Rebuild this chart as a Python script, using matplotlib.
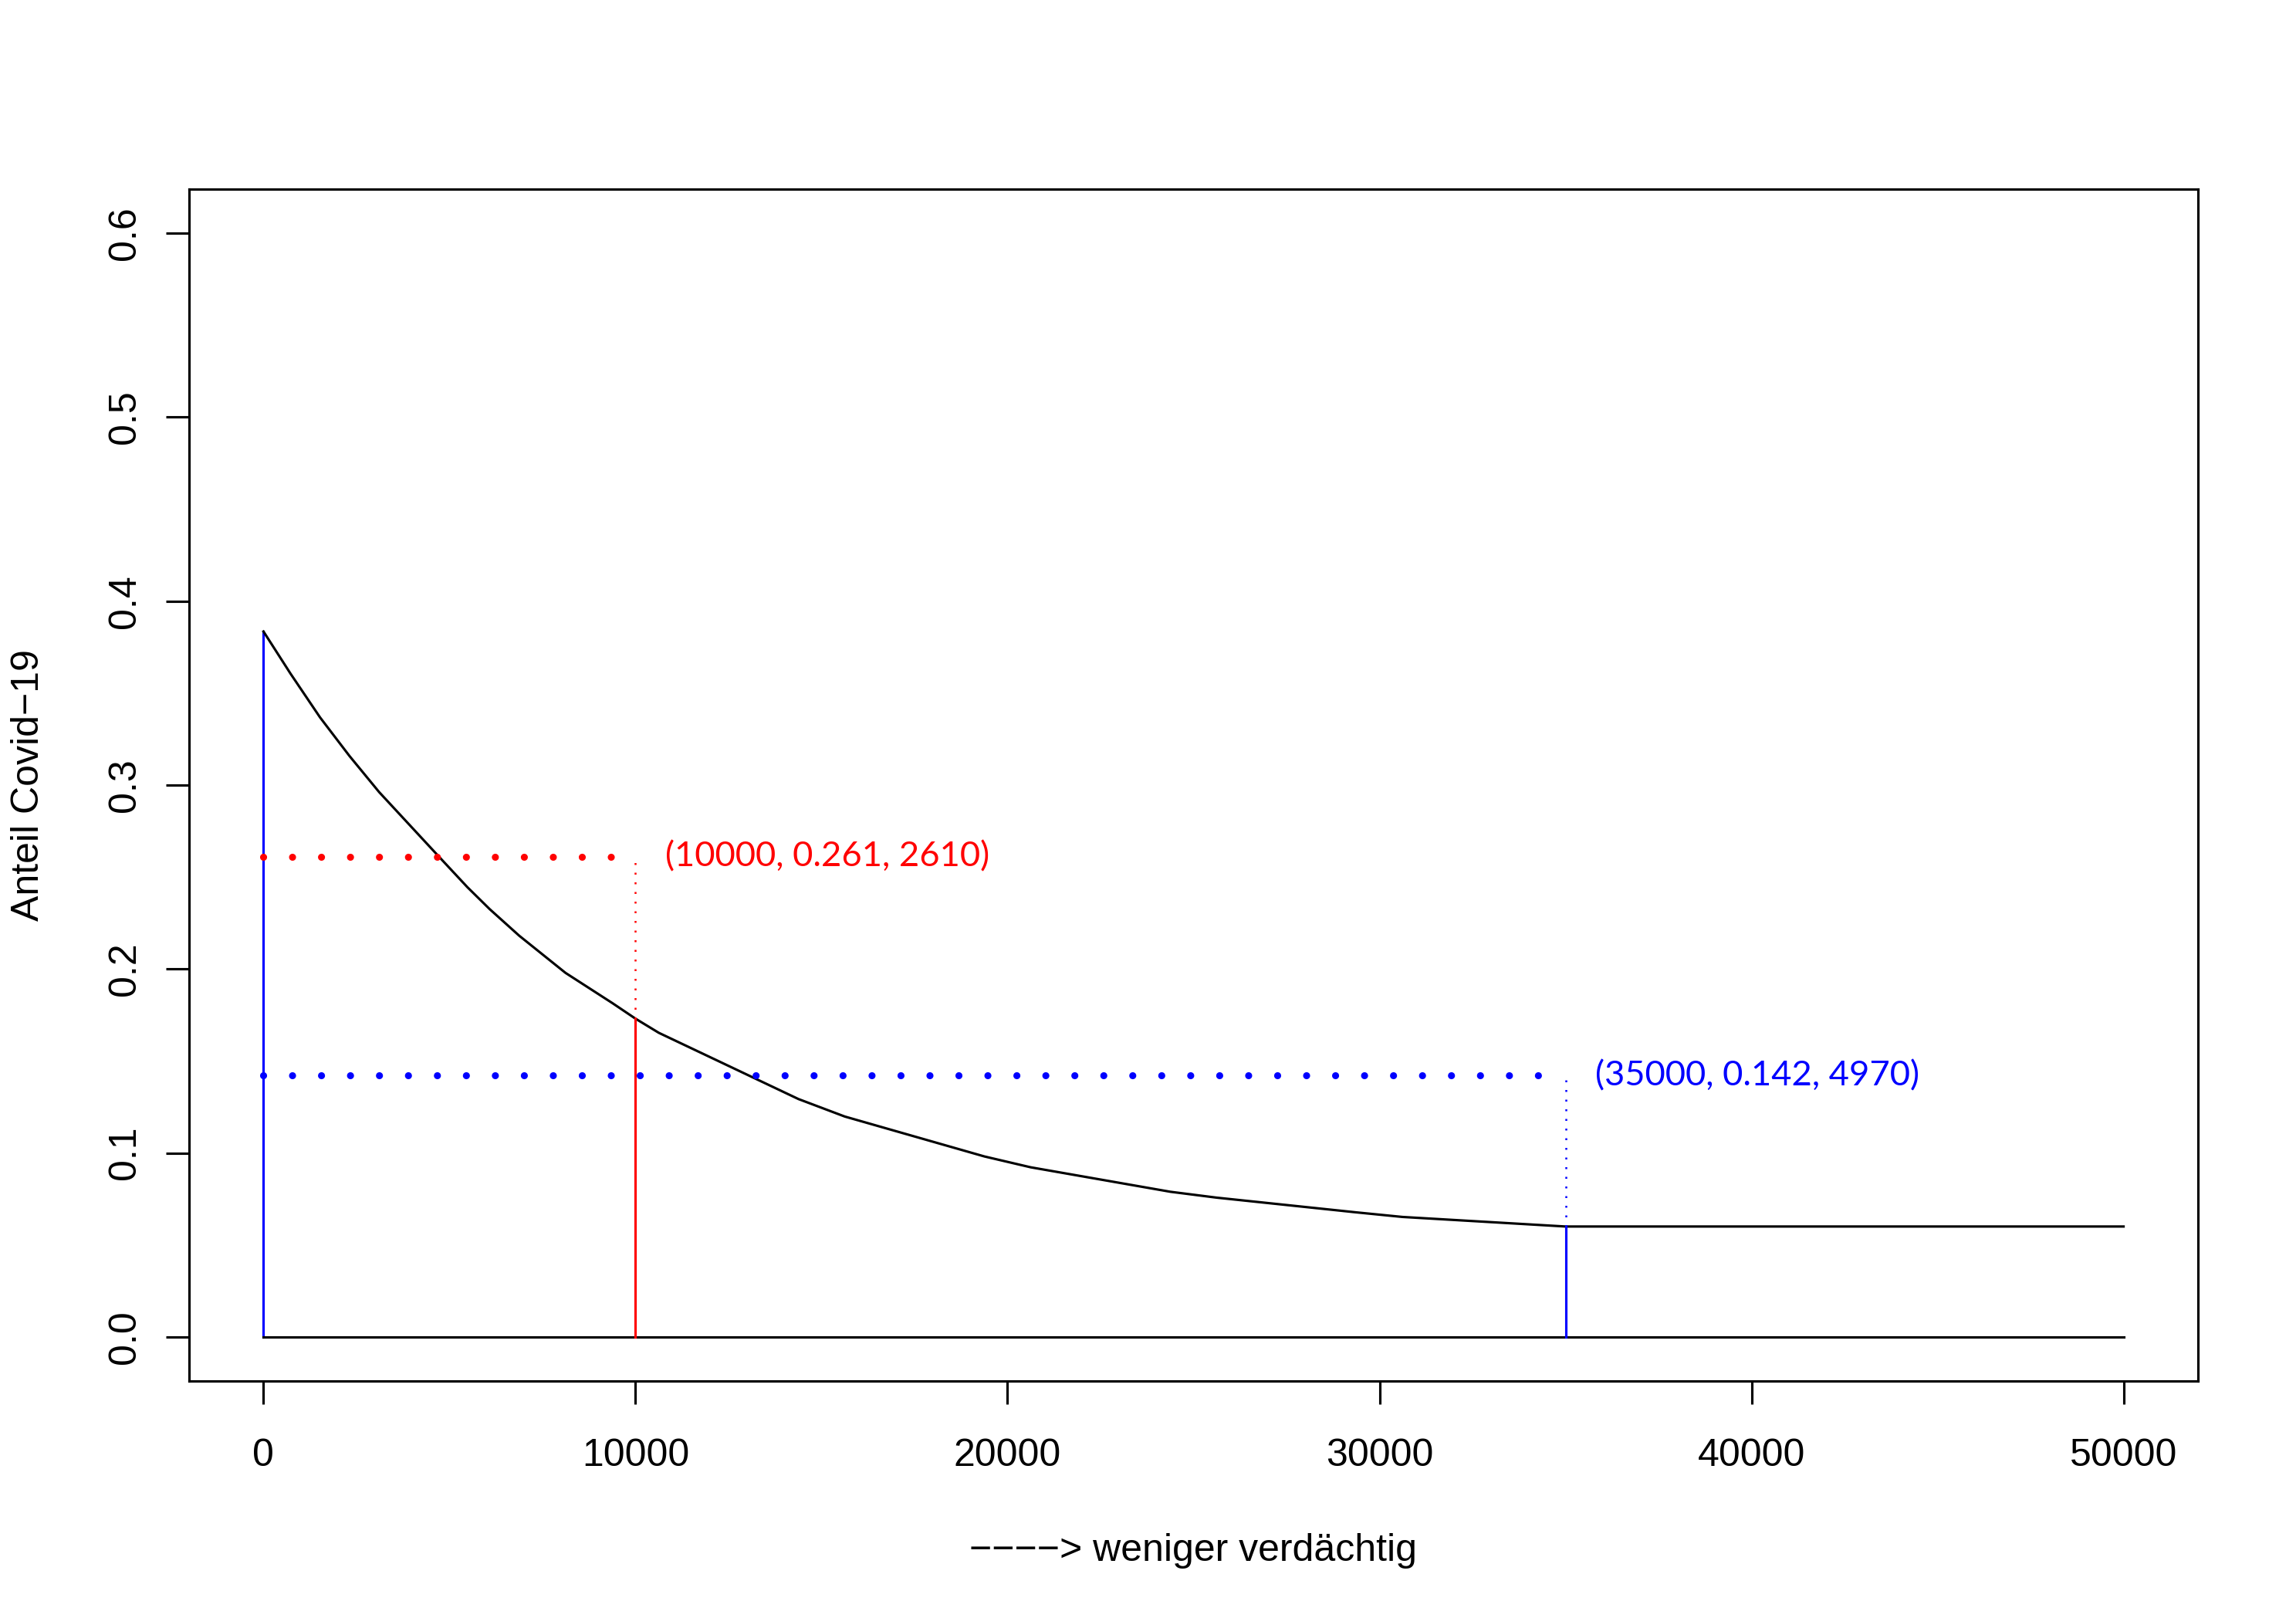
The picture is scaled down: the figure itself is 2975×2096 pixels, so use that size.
"""Anteil Covid-19 vs. rank (weniger verdaechtig) with two cut-off markers, R base-graphics look."""
import matplotlib
matplotlib.use("Agg")
import matplotlib.pyplot as plt

# curve
curve_x = [0, 726, 1520, 2312, 3108, 4720, 5485, 6083, 6874, 8118, 9383, 10000,
           10627, 14380, 15624, 19377, 20621, 24374, 25618, 29371, 30615, 35000, 50000]
curve_y = [0.3835, 0.3606, 0.3368, 0.3158, 0.2962, 0.261, 0.2444, 0.2325, 0.2181,
           0.1979, 0.1814, 0.173, 0.1653, 0.1293, 0.1198, 0.0981, 0.0922, 0.0789,
           0.0757, 0.0677, 0.0652, 0.060, 0.060]

# cut-offs: position, curve value there, cumulative share, count
cut_x = [10000, 35000]
cut_curve = [0.173, 0.060]
cut_share = [0.261, 0.142]
cut_count = [2610, 4970]
cut_colors = ["#FF0000", "#0000FF"]

x_ticks = [0, 10000, 20000, 30000, 40000, 50000]
y_ticks = [0.0, 0.1, 0.2, 0.3, 0.4, 0.5, 0.6]

plt.rcParams["font.family"] = ["Liberation Sans", "DejaVu Sans"]
plt.rcParams["lines.scale_dashes"] = False

W, H, DPI = 2975, 2096, 300
fig = plt.figure(figsize=(W / DPI, H / DPI), dpi=DPI)
ax = fig.add_axes([245 / W, 1 - 1789 / H, (2848 - 245) / W, (1789 - 245) / H])
ax.set_xlim(-2000, 52000)
ax.set_ylim(-0.024, 0.624)

lw = 0.75
ax.plot(curve_x, curve_y, color="black", lw=lw, zorder=3)
ax.plot([curve_x[0], curve_x[-1]], [0, 0], color="black", lw=lw, zorder=3)
ax.plot([curve_x[0], curve_x[0]], [0, curve_y[0]], color="#0000FF", lw=lw, zorder=2)

for x, yc, s, n, c in zip(cut_x, cut_curve, cut_share, cut_count, cut_colors):
    # solid drop line below the curve, fine dotted line up to the share
    ax.plot([x, x], [0, yc], color=c, lw=lw, zorder=4)
    ax.plot([x, x], [yc, s], color=c, lw=0.6, dashes=(0.6, 2.4), zorder=4)
    # heavy dotted horizontal at the share level
    ax.plot([0, x], [s, s], color=c, lw=2.2, dashes=(0.01, 9.0),
            dash_capstyle="round", zorder=5)
    ax.text(x + 800, s, f"({x}, {s:.3f}, {n})", color=c, fontsize=10.9,
            family=["Lato", "DejaVu Sans"], ha="left", va="center")

ax.set_xticks(x_ticks)
ax.set_xticklabels([str(v) for v in x_ticks])
ax.set_yticks(y_ticks)
ax.set_yticklabels([f"{v:.1f}" for v in y_ticks], rotation=90, va="center")
ax.tick_params(length=7.2, width=lw, labelsize=12, color="black")
ax.tick_params(axis="x", pad=10.5)
ax.tick_params(axis="y", pad=7.2)
for sp in ax.spines.values():
    sp.set_linewidth(lw)

fig.text(1546 / W, 1 - 2009 / H, "\u2212\u2212\u2212\u2212> weniger verdächtig",
         fontsize=12, ha="center", va="center")
fig.text(37 / W, 1 - 1017 / H, "Anteil Covid\u221219", fontsize=12,
         rotation=90, ha="center", va="center")

fig.savefig("out.png", dpi=DPI)
